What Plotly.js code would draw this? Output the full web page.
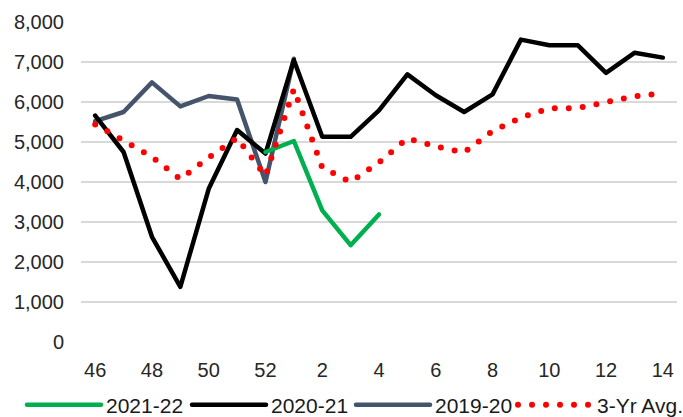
<!DOCTYPE html>
<html>
<head>
<meta charset="utf-8">
<script src="https://cdn.plot.ly/plotly-3.0.1.min.js"></script>
<style>
html,body{margin:0;padding:0;background:#fff;}
#chart{width:683px;height:417px;}
.scatterlayer .js-line, .legendlines path, .legendlines .js-line{stroke-linecap:round;stroke-linejoin:round;}
</style>
</head>
<body>
<div id="chart"></div>
<script>
const weeks = ["46","47","48","49","50","51","52","1","2","3","4","5","6","7","8","9","10","11","12","13","14"];
const tickWeeks = ["46","48","50","52","2","4","6","8","10","12","14"];
const s2122 = [null,null,null,null,null,null,4750,5025,3290,2420,3190];
const s2021 = [5660,4750,2630,1380,3830,5300,4710,7050,5130,5130,5790,6690,6170,5750,6190,7560,7420,7420,6730,7230,7110];
const s1920 = [5520,5750,6490,5890,6150,6060,4000,7080];
const avg3 = [5440,5050,4630,4070,4610,5100,4150,6320,4360,4000,4490,5090,4890,4740,5270,5610,5840,5850,5980,6140,6220];
const yTicks = [0,1000,2000,3000,4000,5000,6000,7000,8000];

const traces = [
  {name:"2019-20", x:weeks.slice(0,s1920.length), y:s1920, mode:"lines", line:{color:"#44546A", width:4.5}, legend:"legend3"},
  {name:"2020-21", x:weeks, y:s2021, mode:"lines", line:{color:"#000000", width:4.5}, legend:"legend2"},
  {name:"2021-22", x:weeks.slice(0,s2122.length), y:s2122, mode:"lines", line:{color:"#00B050", width:4.5}, legend:"legend"},
  {name:"3-Yr Avg.", x:weeks, y:avg3, mode:"lines", line:{color:"#FF0000", width:6, dash:"0px,14px"}, legend:"legend4"}
];

function leg(px){
  return {orientation:"h", xref:"container", yref:"container", x:px/683, y:(417-405)/417, xanchor:"left", yanchor:"middle",
          font:{family:"Liberation Sans, sans-serif", size:21, color:"#1a1a1a"},
          itemwidth:74, borderwidth:0, bgcolor:"rgba(0,0,0,0)"};
}

const layout = {
  width:683, height:417,
  margin:{l:81, r:6, t:22, b:75},
  paper_bgcolor:"#fff", plot_bgcolor:"#fff",
  font:{family:"Liberation Sans, Arial, sans-serif", size:20, color:"#262626"},
  showlegend:true,
  legend:leg(22), legend2:leg(187), legend3:leg(351), legend4:leg(513),
  xaxis:{type:"category", categoryorder:"array", categoryarray:weeks, tickmode:"array", tickvals:tickWeeks, ticktext:tickWeeks,
         range:[-0.5,20.5], showgrid:false, zeroline:false, showline:false, ticks:"", ticklabelstandoff:14, fixedrange:true},
  yaxis:{range:[0,8000], tickmode:"array", tickvals:yTicks, ticktext:yTicks.map(v=>v.toLocaleString("en-US")),
         showgrid:true, gridcolor:"#D9D9D9", gridwidth:1.3, zeroline:false, showline:false, ticks:"", ticklabelstandoff:16, fixedrange:true}
};

Plotly.newPlot("chart", traces, layout, {displayModeBar:false, staticPlot:true});
</script>
</body>
</html>
